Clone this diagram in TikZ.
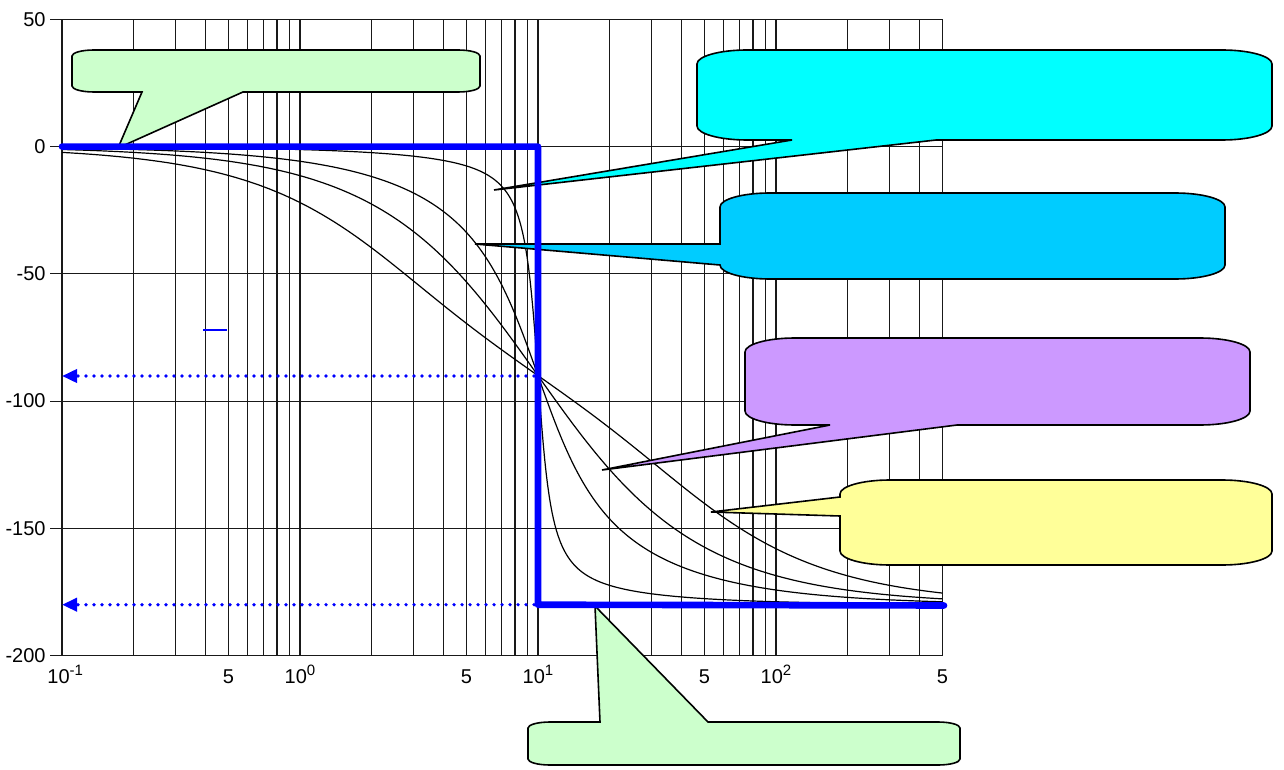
\documentclass[tikz,border=0pt]{standalone}
\usepackage{fontspec}
\setmainfont{Liberation Sans}
\usetikzlibrary{arrows.meta}
\definecolor{cgreen}{HTML}{CCFFCC}
\definecolor{ccyan}{HTML}{00FFFF}
\definecolor{cblue}{HTML}{00CCFF}
\definecolor{cpurple}{HTML}{CC99FF}
\definecolor{cyellow}{HTML}{FFFF99}
\newcommand\cbset[6]{\def\cxa{#1}\def\cya{#2}\def\cxb{#3}\def\cyb{#4}\def\crx{#5}\def\cry{#6}}
\newcommand\cbpath[3]{({\cxa+\crx},\cya) #1 -- ({\cxb-\crx},\cya) .. controls ({\cxb-0.448*\crx},\cya) and (\cxb,{\cya+0.448*\cry}) .. (\cxb,{\cya+\cry}) -- (\cxb,{\cyb-\cry}) .. controls (\cxb,{\cyb-0.448*\cry}) and ({\cxb-0.448*\crx},\cyb) .. ({\cxb-\crx},\cyb) #2 -- ({\cxa+\crx},\cyb) .. controls ({\cxa+0.448*\crx},\cyb) and (\cxa,{\cyb-0.448*\cry}) .. (\cxa,{\cyb-\cry}) #3 -- (\cxa,{\cya+\cry}) .. controls (\cxa,{\cya+0.448*\cry}) and ({\cxa+0.448*\crx},\cya) .. cycle}
\tikzset{
  gridline/.style={draw=black!90, line width=0.6pt},
  curve/.style={draw=black, line width=0.6pt},
  bode/.style={draw=blue, line width=3.3pt, line cap=round, line join=round},
  dotarrow/.style={draw=blue, line width=1.8pt, line cap=round, dash pattern=on 0pt off 4pt, -{Triangle[length=7.5pt,width=6.5pt]}},
  callout/.style={draw=black, line width=0.8pt, line join=miter},
  ylab/.style={anchor=east, font=\fontsize{10}{11}\selectfont, inner sep=0pt},
  xlab/.style={anchor=base, font=\fontsize{10}{11}\selectfont, inner sep=0pt},
}
\newcommand\supx[1]{\raisebox{3.8pt}{\fontsize{7.5}{8}\selectfont #1}}
\begin{document}
\begin{tikzpicture}[x=0.5pt, y=-0.5pt]
\useasboundingbox (0,0) rectangle (1284,770);
% vertical grid
\foreach \d in {0,1,2}{
  \foreach \m in {1,...,9}{
    \draw[gridline] ({62+238*(\d+log10(\m))},19.35) -- ({62+238*(\d+log10(\m))},655.6);
  }
}
\foreach \m in {1,...,5}{
  \draw[gridline] ({62+238*(3+log10(\m))},19.35) -- ({62+238*(3+log10(\m))},655.6);
}
% horizontal grid and y labels
\foreach \v in {50,0,-50,-100,-150,-200}{
  \draw[gridline] (50,{146.6-2.545*\v}) -- (942.4,{146.6-2.545*\v});
  \node[ylab] (yl\v) at (46,{146.6-2.545*\v}) {\v};
}
% x labels
\node[xlab, anchor=base west] (xm1) at (47,683) {10\supx{-1}};
\node[xlab] (x5a) at (228.4,683) {5};
\node[xlab] (x0) at (300,683) {10\supx{0}};
\node[xlab] (x5b) at (466.4,683) {5};
\node[xlab] (x1) at (538,683) {10\supx{1}};
\node[xlab] (x5c) at (704.4,683) {5};
\node[xlab] (x2) at (776,683) {10\supx{2}};
\node[xlab] (x5d) at (942.4,683) {5};
% phase curves
\foreach \z in {0.1,0.5,1,2}{
  \draw[curve] plot[domain=-1:2.699, samples=600] ({62+238*(\x+1)},{146.6+2.545*atan2(2*\z*10^(\x-1),1-10^(2*\x-2))});
}
% callouts
\cbset{72}{50}{480}{92}{22}{6}
\draw[callout, fill=cgreen] \cbpath{}{-- (243,92) -- (118,148) -- (142,92)}{};
\cbset{528}{722}{960}{765}{22}{6}
\draw[callout, fill=cgreen] \cbpath{-- (600,722) -- (595,606) -- (708,722)}{}{};
\cbset{697}{50}{1272}{140}{50}{14}
\draw[callout, fill=ccyan] \cbpath{}{-- (936,140) -- (494,190) -- (792,140)}{};
\cbset{720}{193}{1225}{279}{50}{14}
\draw[callout, fill=cblue] \cbpath{}{}{-- (720,265) -- (475,244) -- (720,244)};
\cbset{745}{338}{1250}{425}{50}{14}
\draw[callout, fill=cpurple] \cbpath{}{-- (957,425) -- (602,470) -- (830,425)}{};
\cbset{840}{480}{1272}{565}{50}{14}
\draw[callout, fill=cyellow] \cbpath{}{}{-- (840,516) -- (711,512) -- (840,497)};
% asymptotes
\coordinate (A) at (62,146.6);
\coordinate (B) at (538,146.6);
\coordinate (C) at (538,604.7);
\coordinate (D) at (944,605.5);
\draw[bode] (A) -- (B) -- (C) -- (D);
% dotted arrows
\coordinate (p90s) at (534,376);
\coordinate (p90e) at (62,376);
\coordinate (p180s) at (534,604.7);
\coordinate (p180e) at (62,604.7);
\draw[dotarrow] (p90s) -- (p90e);
\draw[dotarrow] (p180s) -- (p180e);
% small blue dash
\coordinate (m1) at (203,330);
\coordinate (m2) at (227,330);
\draw[blue, line width=1pt] (m1) -- (m2);
\end{tikzpicture}
\end{document}
